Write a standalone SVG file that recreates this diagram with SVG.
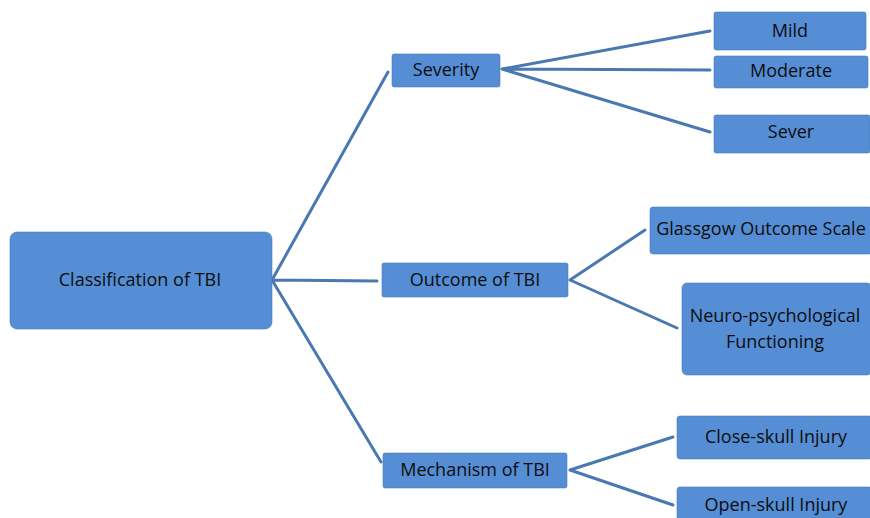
<svg xmlns="http://www.w3.org/2000/svg" width="870" height="518" viewBox="0 0 870 518">
<style>
.n{fill:#558ed5;stroke:#4a7ebb;stroke-width:0.6}
.t{font-family:"Open Sans","Liberation Sans",sans-serif;font-size:18px;fill:#0d0d0d;text-anchor:middle;dominant-baseline:central}
.c{stroke:#4a78b0;stroke-width:3;fill:none;stroke-linecap:round}
</style>
<rect width="870" height="518" fill="#fff"/>
<g id="connectors">
<path class="c" d="M272,280 L388,72 M272,280 L377,281 M272,280 L381,462"/>
<path class="c" d="M502,69 L710,31 M502,69 L710,70 M502,69 L710,132"/>
<path class="c" d="M570,280 L645,230 M570,280 L677,328"/>
<path class="c" d="M570,470 L673,437 M570,470 L673,505"/>
</g>
<g id="root"><rect class="n" x="10" y="232" width="262" height="97" rx="7"/><text class="t" x="140" y="279">Classification of TBI</text></g>
<g id="severity"><rect class="n" x="392" y="54" width="108" height="33" rx="2"/><text class="t" x="446" y="69">Severity</text></g>
<g id="mild"><rect class="n" x="714" y="12" width="152" height="38" rx="2"/><text class="t" x="790" y="30">Mild</text></g>
<g id="moderate"><rect class="n" x="714" y="56" width="154" height="32" rx="2"/><text class="t" x="791" y="70">Moderate</text></g>
<g id="sever"><rect class="n" x="714" y="115" width="156" height="38" rx="2"/><text class="t" x="791" y="131">Sever</text></g>
<g id="outcome"><rect class="n" x="382" y="263" width="186" height="34" rx="2"/><text class="t" x="475" y="279">Outcome of TBI</text></g>
<g id="gos"><rect class="n" x="650" y="207" width="222" height="47" rx="3"/><text class="t" x="761" y="228">Glassgow Outcome Scale</text></g>
<g id="neuro"><rect class="n" x="682" y="283" width="190" height="92" rx="5"/><text class="t" x="775" y="315">Neuro-psychological</text><text class="t" x="775" y="341">Functioning</text></g>
<g id="mechanism"><rect class="n" x="383" y="453" width="184" height="35" rx="2"/><text class="t" x="475" y="469">Mechanism of TBI</text></g>
<g id="close"><rect class="n" x="677" y="416" width="195" height="43" rx="3"/><text class="t" x="776" y="436">Close-skull Injury</text></g>
<g id="open"><rect class="n" x="677" y="487" width="195" height="40" rx="3"/><text class="t" x="776" y="504">Open-skull Injury</text></g>
</svg>
